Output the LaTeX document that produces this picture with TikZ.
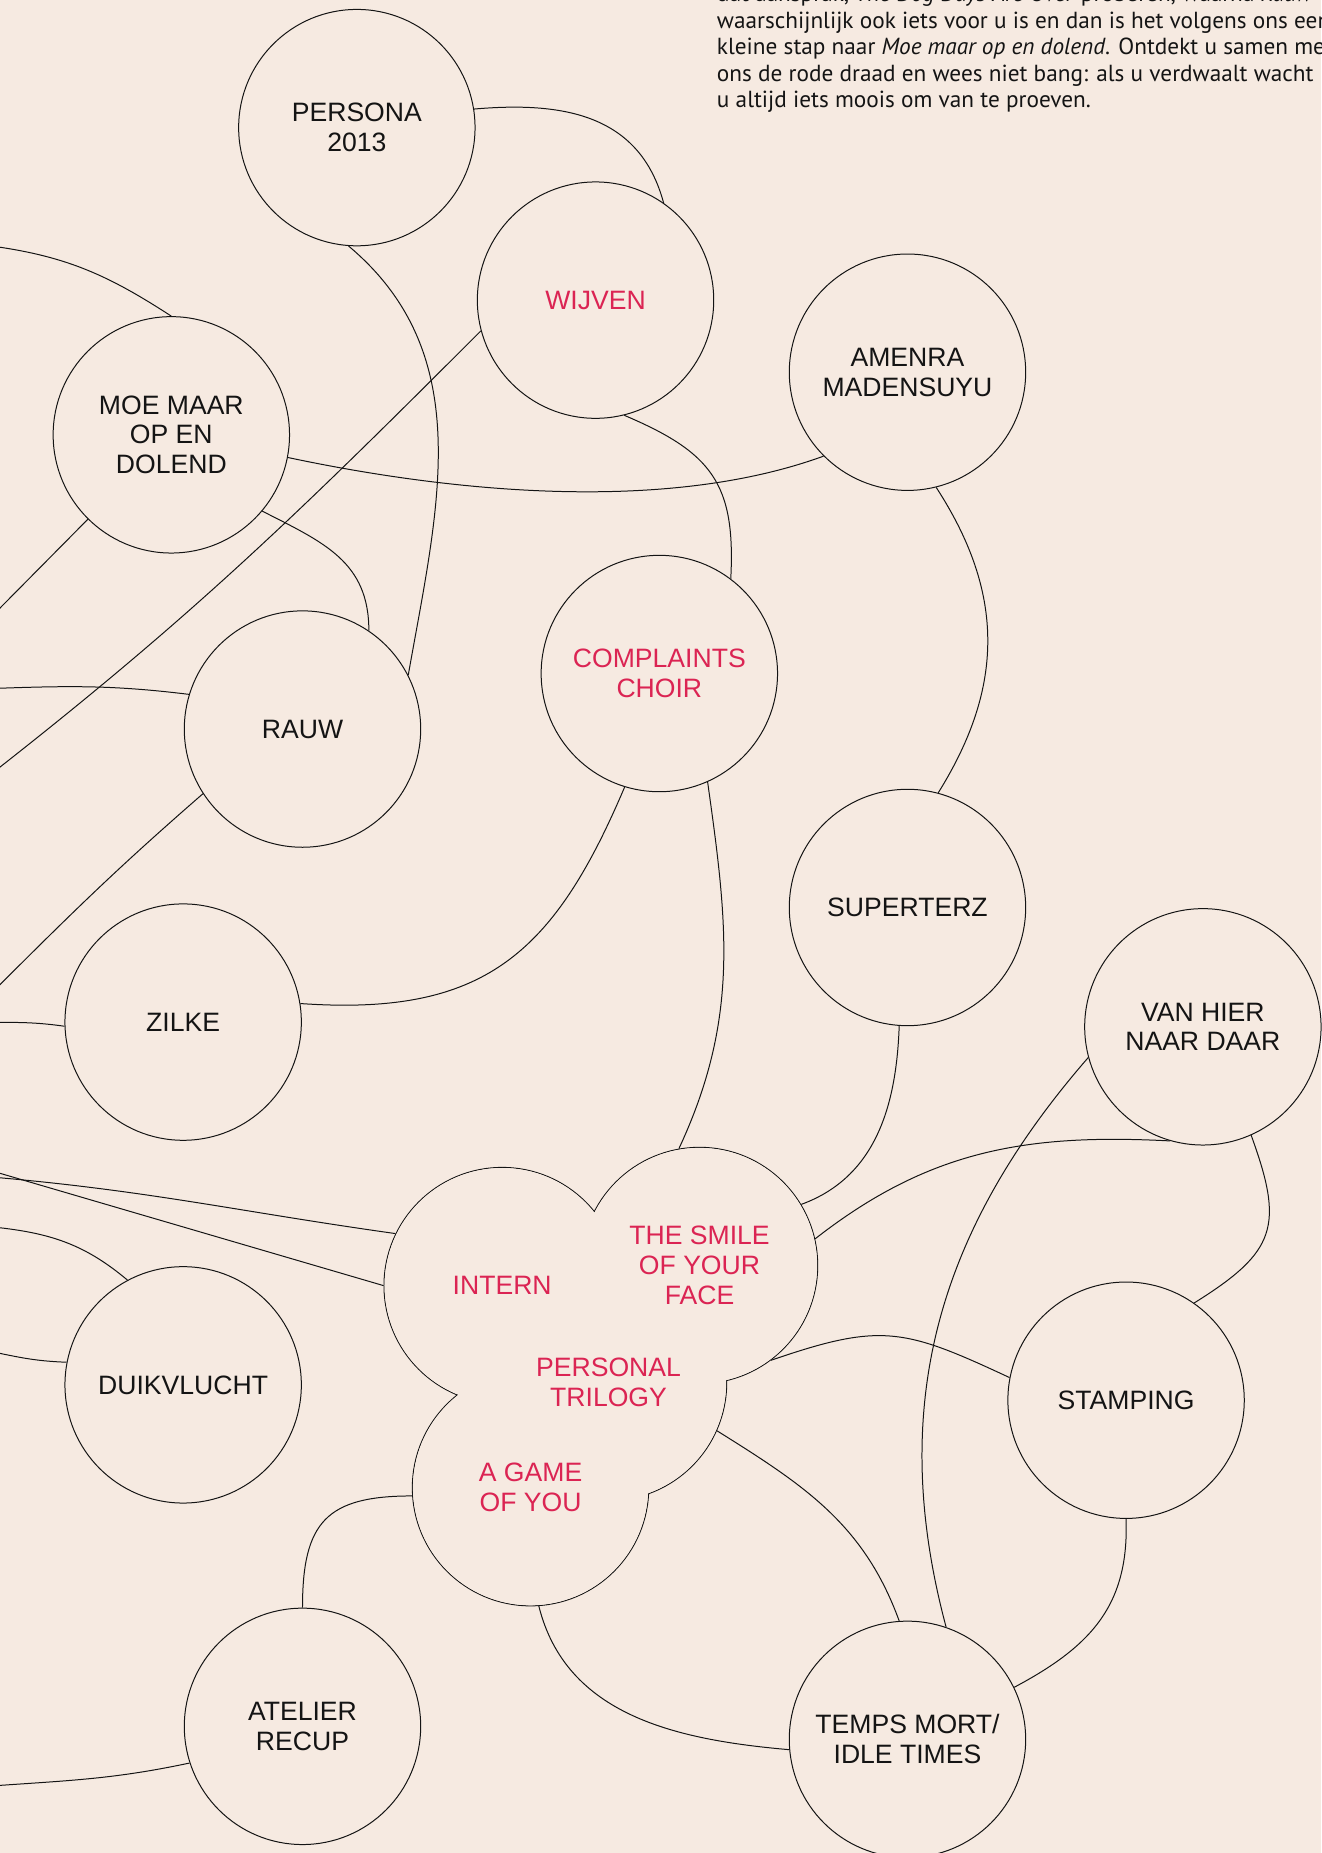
\documentclass[tikz,border=0pt]{standalone}
\usepackage{fontspec}
\usetikzlibrary{backgrounds}
\newfontfamily\labelfont{Liberation Sans}
\newfontfamily\blurbfont{PT Sans}
\definecolor{paper}{RGB}{246,234,225}
\definecolor{festred}{RGB}{219,36,83}
\definecolor{ink}{RGB}{20,20,20}
\tikzset{
  % one show on the map
  play node/.style = {
    draw = ink,
    circle,
    fill = paper,
    line width = 0.6pt,
    minimum size = 5cm,
    inner sep = 0,
    align = center,
    text = ink,
    font = \labelfont\fontsize{16}{18}\selectfont
  },
  % shows of the festival itself
  red play/.style = {
    play node,
    text = festred
  },
  % lobe of the cloud, its label is set on top
  lobe/.style = {
    play node
  },
  lobe label/.style = {
    align = center,
    text = festred,
    font = \labelfont\fontsize{16}{18}\selectfont
  }
}
\tikzset {
  % connector between two shows
  link/.style = {
    draw = ink,
    line width = 0.6pt
  },
  % text block in the upper right corner
  blurb/.style = {
    align = left,
    inner sep = 0,
    text = ink,
    font = \blurbfont\fontsize{14}{15.9}\selectfont
  }
}

\begin{document}
\begin{tikzpicture}[x=0.025cm, y=0.025cm]
  \useasboundingbox (0,0) rectangle (1118,-1568.2);
  \begin{scope}[on background layer]
    \fill[paper] (0,0) rectangle (1118,-1568.2);
  \end{scope}

  \node[blurb, anchor=base west] (blurb) at (606.5,-91) {dat aansprak, \textit{The Dog Days Are Over} proberen, waarna \textit{Rauw}\\
    waarschijnlijk ook iets voor u is en dan is het volgens ons een\\
    kleine stap naar \textit{Moe maar op en dolend}. Ontdekt u samen met\\
    ons de rode draad en wees niet bang: als u verdwaalt wacht\\
    u altijd iets moois om van te proeven.};

  \node[play node] (persona) at (302,-108) {PERSONA\\2013};
  \node[red play] (wijven) at (504,-254) {WIJVEN};
  \node[play node] (amenra) at (768,-315) {AMENRA\\MADENSUYU};
  \node[play node] (moe) at (145,-368) {MOE MAAR\\OP EN\\DOLEND};
  \node[play node] (rauw) at (256,-617) {RAUW};
  \node[red play] (choir) at (558,-570) {COMPLAINTS\\CHOIR};
  \node[play node] (superterz) at (768,-768) {SUPERTERZ};
  \node[play node] (zilke) at (155,-865) {ZILKE};
  \node[play node] (vanhier) at (1018,-869) {VAN HIER\\NAAR DAAR};
  \node[play node] (duikvlucht) at (155,-1172) {DUIKVLUCHT};
  \node[play node] (stamping) at (953,-1185) {STAMPING};
  \node[play node] (atelier) at (256,-1461) {ATELIER\\RECUP};
  \node[play node] (temps) at (768,-1472) {TEMPS MORT/\\IDLE TIMES};

  % the cloud of four shows
  \node[lobe] (intern) at (425,-1088) {};
  \node[lobe] (smile) at (592,-1071) {};
  \node[lobe] (trilogy) at (515,-1170) {};
  \node[lobe] (game) at (449,-1259) {};
  \fill[paper] (intern.center) circle[radius=2.5cm-0.35pt]
    (smile.center) circle[radius=2.5cm-0.35pt]
    (trilogy.center) circle[radius=2.5cm-0.35pt]
    (game.center) circle[radius=2.5cm-0.35pt];
  \node[lobe label] (intern-text) at (intern) {INTERN};
  \node[lobe label] (smile-text) at (smile) {THE SMILE\\OF YOUR\\FACE};
  \node[lobe label] (trilogy-text) at (trilogy) {PERSONAL\\TRILOGY};
  \node[lobe label] (game-text) at (game) {A GAME\\OF YOU};

  % loose ends at the left border
  \coordinate (edge-moe) at (-5,-208.5);
  \coordinate (wijven-edge) at (-10,-657);
  \coordinate (moe-edge) at (-10,-524.7);
  \coordinate (edge-rauw) at (-5,-582.6);
  \coordinate (rauw-edge) at (-5,-838.3);
  \coordinate (edge-zilke) at (-5,-865.2);
  \coordinate (edge-intern-a) at (-5,-996.3);
  \coordinate (edge-intern-b) at (-5,-991.5);
  \coordinate (edge-duik-a) at (-5,-1038.5);
  \coordinate (edge-duik-b) at (-5,-1144.3);
  \coordinate (atelier-edge) at (-5,-1511.3);

  \begin{scope}[on background layer]
    \draw[link] (persona.9) to[out=5,in=105,looseness=1.1] (wijven.55);
    \draw[link] (persona.266) to[out=-40,in=80] (rauw.27);
    \draw[link] (edge-moe) to[out=-8,in=147] (moe.90);
    \draw[link] (wijven.195) to[out=225,in=38] (wijven-edge);
    \draw[link] (moe.-11) to[out=-12,in=200,looseness=0.8] (amenra.225);
    \draw[link] (moe) -- (moe-edge);
    \draw[link] (moe.-40) to[out=-27,in=90,looseness=1.1] (rauw.56);
    \draw[link] (wijven.-76) to[out=-23,in=87,looseness=1.25] (choir.53);
    \draw[link] (amenra.-76) to[out=-57,in=58,looseness=1.05] (superterz.75);
    \draw[link] (edge-rauw) to[out=2,in=173] (rauw.163);
    \draw[link] (rauw.213) to[out=221,in=45] (rauw-edge);
    \draw[link] (choir.253) to[out=247,in=-4,looseness=1.2] (zilke.9);
    \draw[link] (choir.-66) to[out=-82,in=65] (smile.100);
    \draw[link] (edge-zilke) to[out=0,in=172] (zilke.182);
    \draw[link] (superterz.266) to[out=-92,in=20] (smile.31);
    \draw[link] (edge-intern-a) to[out=-5,in=172] (intern.154);
    \draw[link] (edge-intern-b) -- (intern.180);
    \draw[link] (edge-duik-a) to[out=-6,in=140] (duikvlucht.118);
    \draw[link] (edge-duik-b) to[out=-12,in=178] (duikvlucht.169);
    \draw[link] (smile.13) to[out=38,in=177] (vanhier.254);
    \draw[link] (vanhier.-66) to[out=-70,in=32,looseness=1.4] (stamping.55);
    \draw[link] (vanhier.195) to[out=229,in=105] (temps.71);
    \draw[link] (smile.-53) to[out=19,in=155,looseness=1.25] (stamping.169);
    \draw[link] (trilogy.-24) to[out=-32,in=110] (temps.94);
    \draw[link] (stamping.-90) to[out=-88,in=28,looseness=1.1] (temps.26);
    \draw[link] (game.184) to[out=180,in=90,looseness=1.4] (atelier.90);
    \draw[link] (game.-86) to[out=-76,in=175] (temps.185);
    \draw[link] (atelier.198) to[out=192,in=4] (atelier-edge);
  \end{scope}
\end{tikzpicture}
\end{document}
